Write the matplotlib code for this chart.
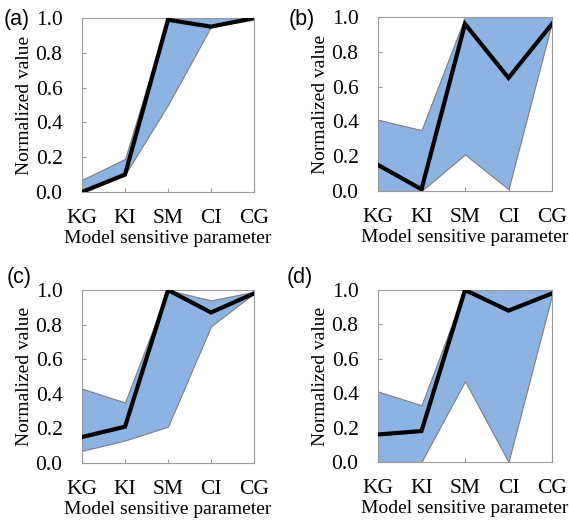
import matplotlib
matplotlib.use('Agg')
import matplotlib.pyplot as plt

params = ['KG', 'KI', 'SM', 'CI', 'CG']

# (a)
a_mid = [0.0, 0.10, 0.99, 0.95, 1.0]
a_up = [0.07, 0.19, 1.0, 1.0, 1.0]
a_low = [0.0, 0.10, 0.50, 0.95, 0.99]
# (b)
b_mid = [0.15, 0.01, 0.96, 0.65, 0.96]
b_up = [0.41, 0.35, 1.0, 1.0, 1.0]
b_low = [0.0, 0.0, 0.21, 0.01, 0.97]
# (c)
c_mid = [0.15, 0.21, 1.0, 0.87, 0.98]
c_up = [0.43, 0.35, 1.0, 0.94, 0.99]
c_low = [0.07, 0.13, 0.21, 0.79, 0.98]
# (d)
d_mid = [0.16, 0.18, 1.0, 0.88, 0.98]
d_up = [0.41, 0.33, 1.0, 1.0, 1.0]
d_low = [0.0, 0.0, 0.47, 0.0, 0.97]

panels = [('(a)', a_mid, a_up, a_low),
          ('(b)', b_mid, b_up, b_low),
          ('(c)', c_mid, c_up, c_low),
          ('(d)', d_mid, d_up, d_low)]

plt.rcParams['font.family'] = ['Liberation Serif', 'DejaVu Serif']

fig = plt.figure(figsize=(5.69, 5.21), dpi=100)
W, H = 569, 521
# axes boxes in pixels: left, top, right, bottom
boxes = [(82, 18, 254, 192), (378, 17, 552, 191),
         (82, 290, 254, 463), (378, 290, 552, 462)]
label_pos = [(4, 20), (289, 20), (7, 277), (287, 278)]

x = list(range(len(params)))
for (lab, mid, up, low), (l, t, r, b), (lx, ly) in zip(panels, boxes, label_pos):
    ax = fig.add_axes([l / W, 1 - b / H, (r - l) / W, (b - t) / H])
    ax.fill_between(x, low, up, facecolor='#8db3e2', edgecolor='#7f7f7f', lw=0.8, zorder=2)
    ax.plot(x, mid, color='black', lw=3, zorder=3, solid_joinstyle='miter')
    ax.set_xlim(0, 4)
    ax.set_ylim(0, 1.0)
    ax.set_xticks(x)
    ax.set_xticklabels(params)
    ax.set_yticks([0, 0.2, 0.4, 0.6, 0.8, 1.0])
    ax.set_yticklabels(['0.0', '0.2', '0.4', '0.6', '0.8', '1.0'])
    ax.tick_params(axis='x', direction='in', length=3, color='#999999', labelsize=15.5, pad=12)
    ax.tick_params(axis='y', direction='in', length=3, color='#999999', labelsize=15.5, pad=14)
    for s in ax.spines.values():
        s.set_color('#999999')
        s.set_linewidth(0.8)
    ax.set_xlabel('Model sensitive parameter', fontsize=14, labelpad=2)
    ax.set_ylabel('Normalized value', fontsize=14, labelpad=2)
    fig.text(lx / W, 1 - ly / H, lab, family='Liberation Sans', fontsize=15.5,
             ha='left', va='center')

fig.savefig('out.png', dpi=100)
